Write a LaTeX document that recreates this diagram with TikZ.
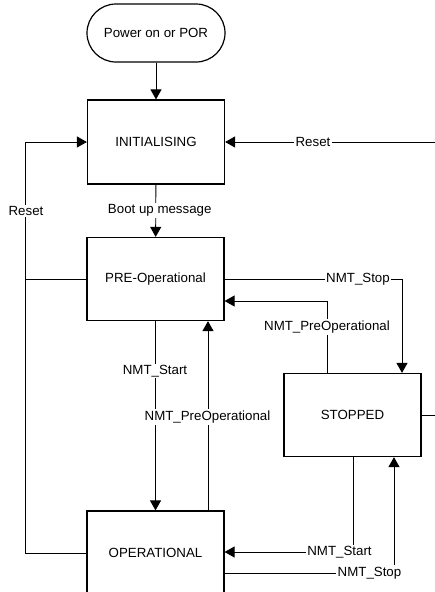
\documentclass[tikz,border=0pt]{standalone}
\usepackage{fontspec}
\setmainfont{Liberation Sans}
\usetikzlibrary{arrows.meta}
\begin{document}
\begin{tikzpicture}[x=1pt,y=-1pt,
  font=\fontsize{13.3}{15}\selectfont,
  state/.style={draw,line width=1.2pt,minimum width=137pt,minimum height=83pt,inner sep=0pt},
  conn/.style={line width=0.9pt},
  arr/.style={conn,-{Triangle[length=10pt,width=11pt]}},
  lbl/.style={fill=white,inner sep=1.5pt}]
\useasboundingbox (0,0) rectangle (435,592);
\clip (0,0) rectangle (435,592);
\node[draw,line width=1.2pt,minimum width=138pt,minimum height=58pt,rounded corners=29pt] (POR) at (156,33) {Power on or POR};
\node[state,minimum height=84pt] (INIT) at (156,142) {INITIALISING};
\node[state] (PRE) at (155.5,279) {PRE-Operational};
\node[state] (STOP) at (352.5,415) {STOPPED};
\node[state,minimum height=84pt] (OP) at (155.5,553) {OPERATIONAL};
% power -> init
\draw[arr] (POR) -- (INIT);
% init -> pre
\draw[arr] (INIT) -- (PRE) node[lbl,pos=0.5,xshift=4pt] {Boot up message};
% reset left
\coordinate (L1) at (25,553);
\coordinate (L2) at (25,142);
\coordinate (L3) at (25,279);
\draw[arr] (OP.west) -- (L1) -- (L2) -- (INIT.west);
\draw[conn] (PRE.west) -- (L3);
\node[lbl] (rl) at (26,211) {Reset};
% reset right
\coordinate (R1) at (435,142);
\draw[arr] (R1) -- (INIT.east);
\node[lbl] (rr) at (313,142) {Reset};
\coordinate (R2) at (435,415);
\draw[conn] (STOP.east) -- (R2);
% pre -> stop
\coordinate (S1) at (402,279);
\draw[arr] (PRE.east) -- (S1) -- (STOP.north -| S1);
\node[lbl] (ls1) at (358,279) {NMT\_Stop};
% stop -> pre
\coordinate (P1) at (327,301);
\draw[arr] (STOP.north -| P1) -- (P1) -- (PRE.east |- P1);
\node[lbl] (lp1) at (327,327) {NMT\_PreOperational};
% pre -> op
\draw[arr] (PRE.south) -- (OP.north);
\coordinate (U1) at (208,400);
\draw[arr] (OP.north -| U1) -- (PRE.south -| U1);
\node[lbl] (ls2) at (155,371) {NMT\_Start};
\node[lbl] (lp2) at (207.5,417) {NMT\_PreOperational};
% stop -> op
\coordinate (T1) at (353,552);
\draw[arr] (STOP.south -| T1) -- (T1) -- (OP.east |- T1);
\node[lbl] (ls3) at (339.5,552) {NMT\_Start};
% op -> stop
\coordinate (T2) at (394,573);
\draw[arr] (OP.east |- T2) -- (T2) -- (STOP.south -| T2);
\node[lbl] (ls4) at (369.5,573) {NMT\_Stop};
\end{tikzpicture}
\end{document}
